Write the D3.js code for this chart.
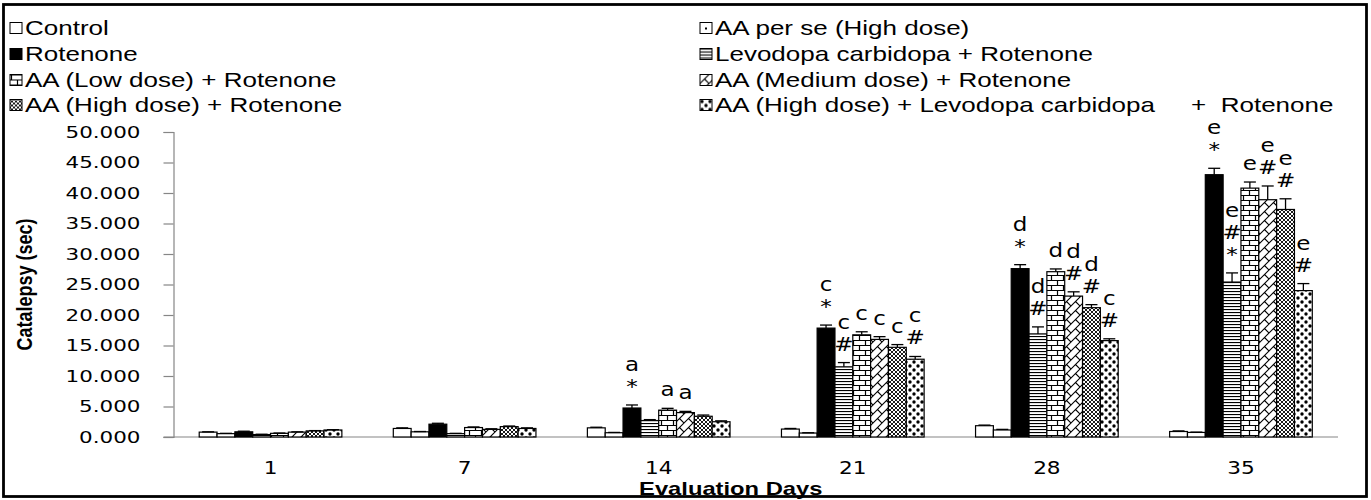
<!DOCTYPE html>
<html><head><meta charset="utf-8">
<script src="https://cdn.jsdelivr.net/npm/d3@7"></script>
<style>body{margin:0;background:#fff}</style>
</head><body><svg id="c" width="1371" height="500"></svg>
<script>
// ---------- data ----------
const days = ["1", "7", "14", "21", "28", "35"];
const seriesNames = [
  "Control",
  "AA per se (High dose)",
  "Rotenone",
  "Levodopa carbidopa + Rotenone",
  "AA (Low dose) + Rotenone",
  "AA (Medium dose) + Rotenone",
  "AA (High dose) + Rotenone",
  "AA (High dose) + Levodopa carbidopa     +  Rotenone"
];
const control      = [0.80, 1.40, 1.50, 1.30, 1.85, 0.90];
const aaPerSe      = [0.55, 0.85, 0.70, 0.65, 1.15, 0.75];
const rotenone     = [0.85, 2.10, 4.75, 17.85, 27.60, 43.00];
const levodopa     = [0.40, 0.55, 2.70, 11.50, 16.90, 25.40];
const aaLow        = [0.60, 1.55, 4.40, 16.75, 27.10, 40.80];
const aaMedium     = [0.80, 1.25, 4.00, 16.00, 23.10, 38.90];
const aaHigh       = [1.00, 1.70, 3.40, 14.70, 21.20, 37.30];
const aaHighLevo   = [1.15, 1.40, 2.50, 12.75, 15.80, 24.00];

const controlErr    = [0.05, 0.10, 0.10, 0.10, 0.10, 0.10];
const aaPerSeErr    = [0.05, 0.05, 0.05, 0.05, 0.10, 0.05];
const rotenoneErr   = [0.10, 0.15, 0.50, 0.50, 0.65, 1.05];
const levodopaErr   = [0.05, 0.05, 0.15, 0.70, 1.15, 1.50];
const aaLowErr      = [0.05, 0.10, 0.30, 0.50, 0.45, 1.00];
const aaMediumErr   = [0.05, 0.10, 0.20, 0.45, 0.70, 2.25];
const aaHighErr     = [0.05, 0.10, 0.20, 0.45, 0.50, 1.75];
const aaHighLevoErr = [0.05, 0.10, 0.15, 0.45, 0.30, 1.15];

const yTicks = [0, 5, 10, 15, 20, 25, 30, 35, 40, 45, 50];

// significance marks, listed bottom -> top
const annotations = [
  {day: "14", series: 2, marks: ["*", "a"]},
  {day: "14", series: 4, marks: ["a"]},
  {day: "14", series: 5, marks: ["a"]},
  {day: "21", series: 2, marks: ["*", "c"]},
  {day: "21", series: 3, marks: ["#", "c"]},
  {day: "21", series: 4, marks: ["c"]},
  {day: "21", series: 5, marks: ["c"]},
  {day: "21", series: 6, marks: ["c"]},
  {day: "21", series: 7, marks: ["#", "c"]},
  {day: "28", series: 2, marks: ["*", "d"]},
  {day: "28", series: 3, marks: ["#", "d"]},
  {day: "28", series: 4, marks: ["d"]},
  {day: "28", series: 5, marks: ["#", "d"]},
  {day: "28", series: 6, marks: ["#", "d"]},
  {day: "28", series: 7, marks: ["#", "c"]},
  {day: "35", series: 2, marks: ["*", "e"]},
  {day: "35", series: 3, marks: ["*", "#", "e"]},
  {day: "35", series: 4, marks: ["e"]},
  {day: "35", series: 5, marks: ["#", "e"]},
  {day: "35", series: 6, marks: ["#", "e"]},
  {day: "35", series: 7, marks: ["#", "e"]}
];

const seriesValues = [control, aaPerSe, rotenone, levodopa, aaLow, aaMedium, aaHigh, aaHighLevo];
const seriesErrors = [controlErr, aaPerSeErr, rotenoneErr, levodopaErr, aaLowErr, aaMediumErr, aaHighErr, aaHighLevoErr];

// ---------- layout ----------
const svg = d3.select("#c");
const plot = {left: 173.5, right: 1338, top: 132, bottom: 437};

const x0 = d3.scaleBand().domain(days).range([plot.left, plot.right])
  .paddingInner(0.265).paddingOuter(0.1325);
const x1 = d3.scaleBand().domain(d3.range(seriesNames.length)).range([0, x0.bandwidth()]);
const y = d3.scaleLinear().domain([0, 50]).range([plot.bottom, plot.top]);

// ---------- patterns ----------
const defs = svg.append("defs");
const patternDraw = [
  [4, 4, null],
  [12, 14, p => p.append("rect").attr("x", 5).attr("y", 5).attr("width", 2).attr("height", 2).attr("fill", "#000")],
  [4, 4, p => p.append("rect").attr("width", 4).attr("height", 4).attr("fill", "#000")],
  [4, 3, p => p.append("rect").attr("y", 0).attr("width", 4).attr("height", 1.1).attr("fill", "#000")],
  [12, 10, p => p.append("path").attr("d", "M0,0.5H12M0,5.5H12M1.5,0V5.5M7.5,5.5V10")
      .attr("stroke", "#000").attr("stroke-width", 1.2).attr("fill", "none")],
  [9, 9, p => p.append("path").attr("d", "M0,9L9,0M4.5,4.5L9,9M-1,1L1,-1M8,10L10,8")
      .attr("stroke", "#000").attr("stroke-width", 1.1).attr("fill", "none")],
  [4, 4, p => p.append("path").attr("d", "M0,0L4,4M4,0L0,4").attr("stroke", "#000").attr("stroke-width", 0.9)],
  [8, 8, p => {
    p.append("circle").attr("cx", 2).attr("cy", 2).attr("r", 1.7).attr("fill", "#000");
    p.append("circle").attr("cx", 6).attr("cy", 6).attr("r", 1.7).attr("fill", "#000");
  }]
];
function pattern(id, si, ox, oy) {
  const [w, h, draw] = patternDraw[si];
  const p = defs.append("pattern").attr("id", id)
    .attr("patternUnits", "userSpaceOnUse").attr("width", w).attr("height", h)
    .attr("x", ox).attr("y", oy);
  p.append("rect").attr("width", w).attr("height", h).attr("fill", "#fff");
  if (draw) draw(p);
}
patternDraw.forEach((_, si) => pattern(`p${si}`, si, 0, 0));

// horizontally stretched text, like the reference
function stretchText(g, X, Y, txt, sx, opts) {
  const t = g.append("text")
    .attr("x", X / sx).attr("y", Y)
    .attr("transform", `scale(${sx},1)`)
    .style("white-space", "pre")
    .text(txt);
  for (const k in opts) t.attr(k, opts[k]);
  return t;
}

// ---------- border ----------
svg.append("rect").attr("x", 3.5).attr("y", 4.5).attr("width", 1363).attr("height", 492)
  .attr("fill", "none").attr("stroke", "#000").attr("stroke-width", 2.8);

// ---------- axes ----------
const axisColor = "#868686";
const yAxis = svg.append("g").attr("transform", `translate(${plot.left},0)`)
  .call(d3.axisLeft(y).tickValues(yTicks).tickFormat(d3.format(".3f")).tickSize(10).tickPadding(23));
yAxis.select(".domain").attr("stroke", axisColor).attr("stroke-width", 1.2);
yAxis.selectAll(".tick line").attr("stroke", axisColor).attr("stroke-width", 1.2);
const tickSx = 1.3;
yAxis.selectAll(".tick text")
  .attr("font-family", "DejaVu Sans").attr("font-size", 16.5).attr("fill", "#000")
  .attr("x", -33 / tickSx).attr("transform", `scale(${tickSx},1)`);

// x baseline
svg.append("line").attr("x1", plot.left - 10).attr("x2", plot.right)
  .attr("y1", y(0)).attr("y2", y(0)).attr("stroke", axisColor).attr("stroke-width", 1.2);

// category labels
const catG = svg.append("g").attr("font-family", "DejaVu Sans").attr("font-size", 18).attr("fill", "#000");
days.forEach(d => stretchText(catG, x0(d) + x0.bandwidth() / 2, 474, d, 1.2, {"text-anchor": "middle"}));

// axis titles
svg.append("text")
  .attr("transform", `translate(${plot.left + (plot.right - plot.left) / 2 - 25},495) scale(1.25,1)`)
  .attr("text-anchor", "middle").attr("font-family", "Liberation Sans").attr("font-weight", "bold")
  .attr("font-size", 19).text("Evaluation Days");
svg.append("text")
  .attr("transform", `translate(32,${(plot.top + plot.bottom) / 2}) scale(1.2,1) rotate(-90)`)
  .attr("text-anchor", "middle").attr("font-family", "Liberation Sans").attr("font-weight", "bold")
  .attr("font-size", 18).text("Catalepsy (sec)");

// ---------- bars ----------
const barsG = svg.append("g");
seriesValues.forEach((vals, si) => {
  barsG.append("g").selectAll("rect").data(days).join("rect")
    .attr("x", d => x0(d) + x1(si))
    .attr("width", x1.bandwidth())
    .attr("y", (d, i) => y(vals[i]))
    .attr("height", (d, i) => y(0) - y(vals[i]))
    .attr("fill", `url(#p${si})`)
    .attr("stroke", "#000").attr("stroke-width", 1.2);
});

// error bars
const errG = svg.append("g").attr("stroke", "#000").attr("stroke-width", 1.3);
seriesValues.forEach((vals, si) => {
  days.forEach((d, i) => {
    const cx = x0(d) + x1(si) + x1.bandwidth() / 2;
    const top = y(vals[i] + seriesErrors[si][i]);
    errG.append("line").attr("x1", cx).attr("x2", cx).attr("y1", y(vals[i])).attr("y2", top);
    errG.append("line").attr("x1", cx - 6).attr("x2", cx + 6).attr("y1", top).attr("y2", top);
  });
});

// annotations
const annG = svg.append("g").attr("font-family", "DejaVu Sans").attr("font-size", 20).attr("fill", "#000");
annotations.forEach(a => {
  const i = days.indexOf(a.day);
  const cx = x0(a.day) + x1(a.series) + x1.bandwidth() / 2;
  const top = y(seriesValues[a.series][i] + seriesErrors[a.series][i]);
  a.marks.forEach((m, k) => {
    stretchText(annG, cx, top - 12 - k * 22, m, 1.15, {"text-anchor": "middle"});
  });
});

// ---------- legend ----------
const legG = svg.append("g").attr("font-family", "Liberation Sans").attr("font-size", 20).attr("fill", "#000");
const legCols = [10, 700];
const legRows = [28, 54, 80, 105];
seriesNames.forEach((name, si) => {
  const col = si % 2, row = Math.floor(si / 2);
  const lx = legCols[col], ly = legRows[row];
  pattern(`lp${si}`, si, lx, ly - 5.5);
  legG.append("rect").attr("x", lx).attr("y", ly - 5.5).attr("width", 12).attr("height", 11)
    .attr("fill", `url(#lp${si})`).attr("stroke", "#000").attr("stroke-width", 1);
  stretchText(legG, lx + 15, ly + 7, name, 1.3, {});
});
</script></body></html>
